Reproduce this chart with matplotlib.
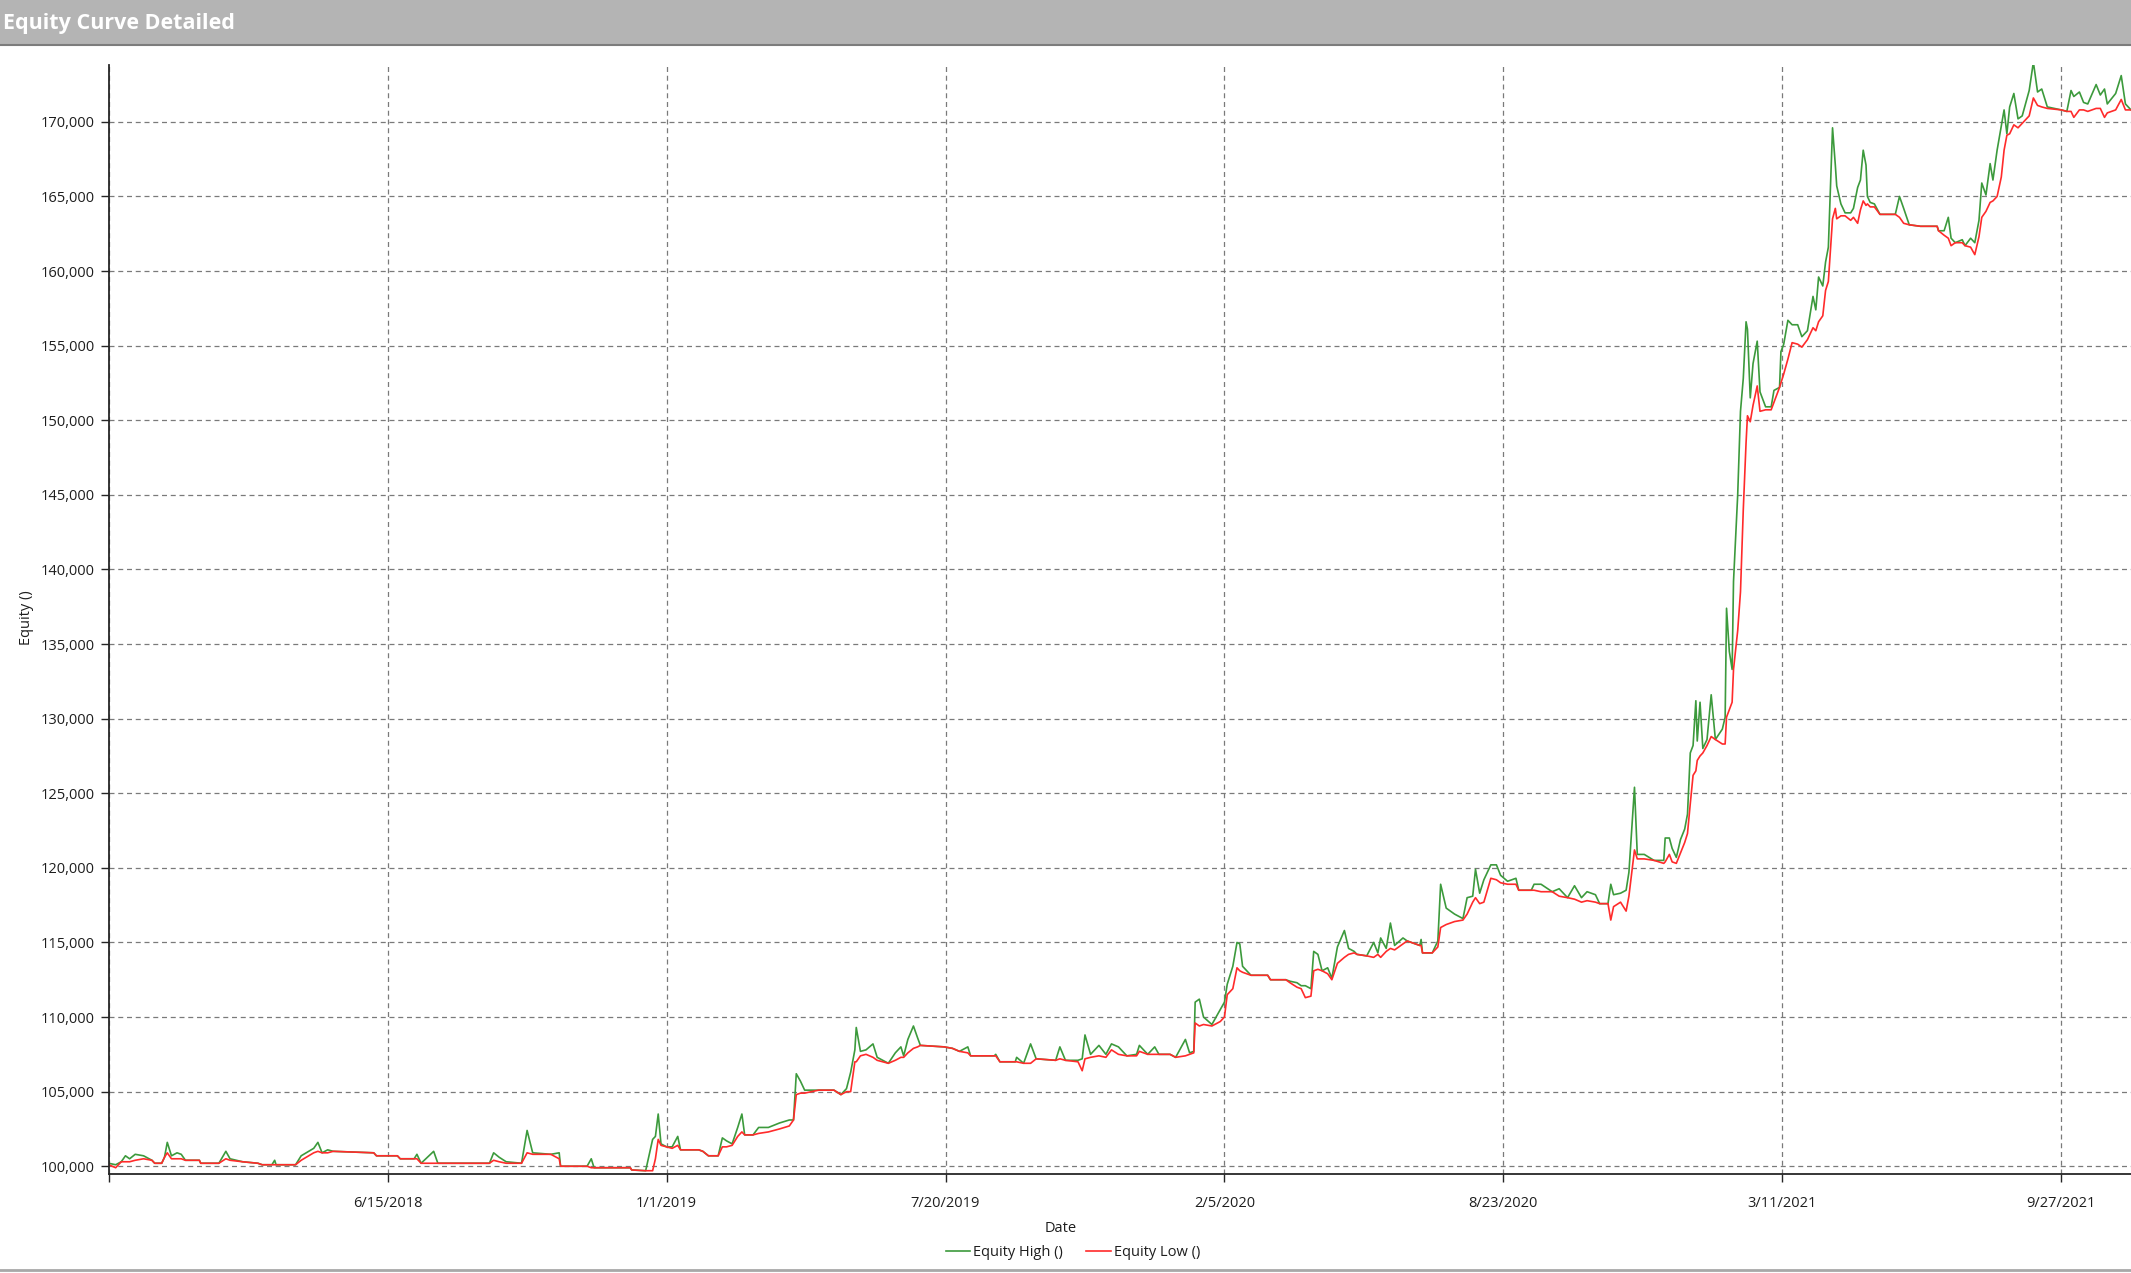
import numpy as np
import matplotlib
matplotlib.use("Agg")
import matplotlib.pyplot as plt
from matplotlib.patches import Rectangle
from matplotlib.lines import Line2D
from matplotlib.ticker import FuncFormatter

plt.rcParams["font.family"] = ["Open Sans", "DejaVu Sans"]

# days since 2017-11-27
start = np.datetime64("2017-11-27")
days = [
    0, 5, 9, 12, 15, 19, 25, 31, 33, 38, 40, 42, 45, 49, 52, 55, 65, 66, 79, 84,
    87, 96, 107, 110, 117, 119, 120, 134, 138, 147, 150, 153, 157, 161, 190, 192, 207, 209, 219, 221,
    224, 233, 236, 273, 276, 280, 285, 296, 300, 304, 317, 323, 324, 343, 346, 348, 374, 375, 385, 390,
    392, 394, 396,
    400, 404, 408, 410, 423, 426, 430, 437, 440, 443, 447, 451, 454, 456, 462, 466, 473, 481, 488, 491,
    493, 496, 499, 509, 520, 525, 529, 532, 535, 536, 539, 543, 548, 551, 559, 564, 568, 570, 573, 577,
    580, 582, 599, 605, 610, 616, 618, 635, 636, 639, 650, 651, 656, 661, 665, 679, 682, 686, 695, 698,
    700, 704, 710, 715, 719, 724, 730, 737, 739, 745, 750, 753, 761, 765, 772, 775, 778, 779, 782, 785,
    791, 797, 800,
    802, 806, 809, 811, 813, 819, 831, 833, 844, 847, 852, 855, 858, 862, 864, 867, 870, 874, 877, 881,
    886, 889, 893, 895, 902, 907, 910, 912, 916, 919, 922, 928, 931, 940, 941, 942, 949, 953, 955, 959,
    965, 971, 974, 978, 980, 983, 986, 991, 995, 998, 1003, 1009, 1011, 1020, 1022, 1027, 1035, 1040, 1046, 1051,
    1056, 1060, 1066, 1069, 1075, 1077, 1079, 1084, 1088, 1090, 1094, 1096, 1101, 1108, 1115, 1116, 1119, 1121, 1124, 1127,
    1130, 1132, 1134, 1136, 1138, 1139, 1141, 1143, 1146, 1149, 1152, 1157, 1159, 1160, 1162, 1164, 1165, 1168, 1170, 1172,
    1174, 1175, 1177, 1179, 1182, 1184, 1188, 1192, 1194, 1198, 1199, 1201, 1204, 1207, 1211, 1214, 1218, 1222, 1224, 1226,
    1229, 1231, 1233, 1236, 1238, 1239, 1242, 1245,
    1249, 1251, 1254, 1256, 1258, 1260, 1261, 1263, 1266, 1270, 1281, 1284, 1287, 1291, 1299, 1311, 1312, 1316, 1319, 1321,
    1324, 1329, 1331, 1335, 1338, 1341, 1343, 1346, 1349, 1351, 1354, 1357, 1359, 1361, 1363, 1366, 1369, 1372, 1377, 1380,
    1383, 1386, 1390, 1400, 1404, 1407, 1409, 1413, 1416, 1419, 1425, 1428, 1431, 1433, 1439, 1443, 1446, 1450,
]

# equity, in thousands
equity_high = [
    100.2, 100.1, 100.3, 100.7, 100.5, 100.8, 100.7, 100.4, 100.2, 100.2, 100.6, 101.6, 100.7, 100.9, 100.8, 100.4, 100.4, 100.2, 100.2, 101.0,
    100.5, 100.3, 100.2, 100.1, 100.1, 100.4, 100.1, 100.1, 100.7, 101.2, 101.6, 100.9, 101.1, 101.0, 100.9, 100.7, 100.7, 100.5, 100.5, 100.8,
    100.2, 101.0, 100.2, 100.2, 100.9, 100.6, 100.3, 100.2, 102.4, 100.9, 100.8, 100.9, 100.0, 100.0, 100.5, 99.9, 99.9, 99.75, 99.7, 101.8,
    102.0, 103.5, 101.5,
    101.3, 101.3, 102.0, 101.1, 101.1, 101.0, 100.7, 100.7, 101.9, 101.7, 101.5, 102.6, 103.5, 102.1, 102.1, 102.6, 102.6, 102.9, 103.1, 103.1,
    106.2, 105.7, 105.1, 105.1, 105.1, 104.8, 105.2, 106.3, 107.8, 109.3, 107.7, 107.8, 108.2, 107.3, 106.9, 107.6, 108.0, 107.4, 108.5, 109.4,
    108.6, 108.1, 108.0, 107.9, 107.7, 108.0, 107.4, 107.4, 107.5, 107.0, 107.0, 107.3, 106.9, 108.2, 107.2, 107.1, 108.0, 107.1, 107.1, 107.2,
    108.8, 107.5, 108.1, 107.5, 108.2, 108.0, 107.4, 107.5, 108.1, 107.5, 108.0, 107.5, 107.5, 107.3, 108.5, 107.6, 107.7, 111.0, 111.2, 110.0,
    109.5, 110.5, 111.0,
    112.2, 113.4, 115.0, 114.9, 113.4, 112.8, 112.8, 112.5, 112.5, 112.4, 112.3, 112.1, 112.1, 111.9, 114.4, 114.2, 113.1, 113.3, 112.6, 114.7,
    115.8, 114.6, 114.4, 114.2, 114.1, 115.0, 114.3, 115.3, 114.6, 116.3, 114.8, 115.3, 115.1, 114.8, 115.2, 114.3, 114.3, 115.1, 118.9, 117.3,
    116.9, 116.6, 118.0, 118.1, 119.9, 118.3, 119.2, 120.2, 120.2, 119.5, 119.1, 119.3, 118.5, 118.5, 118.9, 118.9, 118.4, 118.6, 118.0, 118.8,
    118.0, 118.4, 118.2, 117.6, 117.6, 118.9, 118.2, 118.3, 118.5, 119.7, 125.4, 120.9, 120.9, 120.5, 120.5, 122.0, 122.0, 121.3, 120.7, 121.9,
    122.6, 123.6, 127.7, 128.2, 131.2, 128.5, 131.1, 128.0, 128.6, 131.6, 128.6, 129.3, 130.1, 137.4, 134.5, 133.3, 139.2, 145.0, 150.6, 152.8,
    156.6, 156.1, 151.5, 153.8, 155.3, 151.9, 150.9, 150.9, 152.0, 152.2, 154.6, 155.1, 156.7, 156.4, 156.4, 155.6, 156.0, 158.3, 157.4, 159.6,
    159.0, 160.6, 161.6, 169.6, 167.1, 165.7, 164.5, 163.9,
    163.9, 164.2, 165.6, 166.1, 168.1, 167.1, 165.0, 164.6, 164.5, 163.8, 163.8, 165.0, 164.2, 163.1, 163.0, 163.0, 162.7, 162.7, 163.6, 162.2,
    161.9, 162.1, 161.7, 162.2, 161.9, 163.4, 165.9, 165.1, 167.2, 166.1, 168.1, 169.7, 170.8, 169.2, 171.0, 171.9, 170.2, 170.4, 172.1, 174.0,
    172.0, 172.2, 171.0, 170.8, 170.7, 172.1, 171.7, 172.0, 171.3, 171.2, 172.5, 171.8, 172.2, 171.2, 171.9, 173.1, 171.2, 170.8,
]

equity_low = [
    100.1, 99.9, 100.3, 100.3, 100.3, 100.4, 100.5, 100.4, 100.2, 100.2, 100.6, 100.9, 100.5, 100.5, 100.5, 100.4, 100.4, 100.2, 100.2, 100.5,
    100.4, 100.3, 100.2, 100.1, 100.1, 100.1, 100.1, 100.1, 100.4, 100.9, 101.0, 100.9, 100.9, 101.0, 100.9, 100.7, 100.7, 100.5, 100.5, 100.5,
    100.2, 100.2, 100.2, 100.2, 100.4, 100.3, 100.2, 100.2, 100.9, 100.8, 100.8, 100.5, 100.0, 100.0, 99.9, 99.9, 99.9, 99.75, 99.7, 99.7,
    100.5, 101.8, 101.4,
    101.3, 101.2, 101.4, 101.1, 101.1, 101.0, 100.7, 100.7, 101.3, 101.3, 101.4, 102.0, 102.3, 102.1, 102.1, 102.2, 102.3, 102.5, 102.7, 103.1,
    104.8, 104.9, 104.9, 105.1, 105.1, 104.8, 105.0, 105.0, 107.0, 107.0, 107.4, 107.5, 107.3, 107.1, 106.9, 107.1, 107.3, 107.3, 107.6, 107.9,
    108.0, 108.1, 108.0, 107.9, 107.7, 107.6, 107.4, 107.4, 107.4, 107.0, 107.0, 107.0, 106.9, 106.9, 107.2, 107.1, 107.2, 107.1, 107.0, 106.4,
    107.2, 107.3, 107.4, 107.3, 107.8, 107.5, 107.4, 107.4, 107.7, 107.5, 107.5, 107.5, 107.5, 107.3, 107.4, 107.5, 107.6, 109.6, 109.4, 109.5,
    109.4, 109.7, 110.0,
    111.5, 111.9, 113.3, 113.1, 113.0, 112.8, 112.8, 112.5, 112.5, 112.3, 112.0, 111.9, 111.3, 111.4, 113.1, 113.2, 113.1, 112.9, 112.5, 113.6,
    114.0, 114.2, 114.3, 114.2, 114.1, 114.0, 114.2, 114.0, 114.4, 114.6, 114.5, 114.9, 115.1, 114.8, 114.8, 114.3, 114.3, 114.7, 116.0, 116.2,
    116.4, 116.5, 116.9, 117.7, 118.0, 117.6, 117.7, 119.3, 119.2, 119.0, 118.9, 118.9, 118.5, 118.5, 118.5, 118.4, 118.4, 118.1, 118.0, 117.9,
    117.7, 117.8, 117.7, 117.6, 117.6, 116.5, 117.4, 117.7, 117.1, 118.1, 121.2, 120.6, 120.6, 120.5, 120.3, 120.4, 120.9, 120.4, 120.3, 121.0,
    121.7, 122.3, 124.3, 126.2, 126.5, 127.2, 127.5, 127.7, 128.2, 128.8, 128.6, 128.3, 128.3, 130.1, 130.6, 131.1, 133.3, 135.9, 138.5, 144.0,
    148.5, 150.3, 149.9, 151.0, 152.3, 150.6, 150.7, 150.7, 151.2, 152.2, 152.5, 153.1, 154.1, 155.2, 155.1, 154.9, 155.4, 156.2, 156.0, 156.6,
    157.0, 158.7, 159.3, 163.5, 164.2, 163.5, 163.7, 163.7,
    163.4, 163.6, 163.2, 164.1, 164.7, 164.4, 164.5, 164.3, 164.3, 163.8, 163.8, 163.6, 163.2, 163.1, 163.0, 163.0, 162.7, 162.4, 162.2, 161.7,
    161.9, 161.9, 161.7, 161.6, 161.1, 162.3, 163.6, 164.0, 164.6, 164.7, 165.0, 166.3, 168.1, 169.1, 169.2, 169.8, 169.6, 169.9, 170.4, 171.6,
    171.1, 171.0, 170.9, 170.8, 170.7, 170.7, 170.3, 170.8, 170.8, 170.7, 170.9, 170.9, 170.3, 170.6, 170.8, 171.5, 170.8, 170.8,
]

tick_days = [0, 200, 400, 600, 800, 1000, 1200, 1400]
y_ticks = list(range(100000, 170001, 5000))

assert len(days) == len(equity_high) == len(equity_low)

W, H = 2131, 1273
fig = plt.figure(figsize=(W / 100, H / 100), dpi=100, facecolor="white")

# title bar
fig.patches.append(Rectangle((0, 1 - 45 / H), 1, 45 / H, transform=fig.transFigure,
                             facecolor="#b4b4b4", edgecolor="none"))
fig.lines.append(Line2D([0, 1], [1 - 45 / H, 1 - 45 / H], transform=fig.transFigure,
                        color="#7c7c7c", lw=1.5))
fig.text(3 / W, 1 - 24 / H, "Equity Curve Detailed", color="white", weight="bold",
         fontsize=15.5, va="center", ha="left")

# bottom border line
fig.lines.append(Line2D([0, 1], [1 - 1270 / H, 1 - 1270 / H], transform=fig.transFigure,
                        color="#a8a8a8", lw=2))

left, right, top, bottom = 108.7, 2131, 65, 1174
ax = fig.add_axes([left / W, 1 - bottom / H, (right - left) / W, (bottom - top) / H])

x = start + np.array(days).astype("timedelta64[D]")
hi = np.array(equity_high) * 1000
lo = np.array(equity_low) * 1000

ax.plot(x, hi, color="#3c9a3c", lw=1.2, label="Equity High ()")
ax.plot(x, lo, color="#ff2b2b", lw=1.2, label="Equity Low ()")

ax.set_xlim(start, start + np.timedelta64(1450, "D"))
ax.set_ylim(99480, 173810)

tick_dates = start + np.array(tick_days).astype("timedelta64[D]")
ax.set_xticks(tick_dates)
labels = []
for d in tick_dates.astype(object):
    labels.append(f"{d.month}/{d.day}/{d.year}")
labels[0] = ""
ax.set_xticklabels(labels)
ax.set_yticks(y_ticks)
ax.yaxis.set_major_formatter(FuncFormatter(lambda v, p: f"{int(v):,}"))

ax.grid(True, linestyle=(0, (4, 3)), color="#7a7a7a", lw=0.9)
for s in ["top", "right"]:
    ax.spines[s].set_visible(False)
for s in ["left", "bottom"]:
    ax.spines[s].set_color("#262626")
    ax.spines[s].set_linewidth(1.3)
ax.tick_params(axis="both", direction="out", length=6, width=1, color="#262626",
               labelsize=10.5, labelcolor="#1e1e1e")
ax.tick_params(axis="y", pad=4)
ax.tick_params(axis="x", pad=10)

fig.text(26 / W, 1 - 618 / H, "Equity ()", rotation=90, va="center", ha="center",
         fontsize=10.5, color="#1e1e1e")
fig.text(1061 / W, 1 - 1229 / H, "Date", va="center", ha="center", fontsize=10.5, color="#1e1e1e")

fig.legend(loc="center", bbox_to_anchor=(1073 / W, 1 - 1253 / H), ncol=2, frameon=False,
           fontsize=10.5, handlelength=1.7, handletextpad=0.2, columnspacing=1.6,
           labelcolor="#1e1e1e")

fig.savefig("out.png", dpi=100, facecolor="white")
